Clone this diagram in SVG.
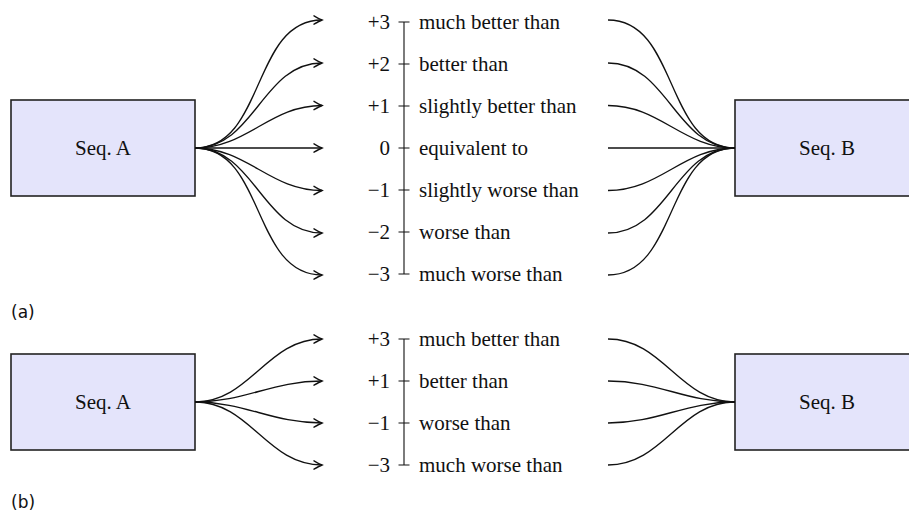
<svg xmlns="http://www.w3.org/2000/svg" width="909" height="512" viewBox="0 0 909 512">
<style>
.box{fill:#e4e4fb;stroke:#222;stroke-width:1.6}
.t{font-family:"Liberation Serif","Times New Roman",serif;font-size:21px;fill:#111}
.n{font-family:"Liberation Serif","Times New Roman",serif;font-size:21px;fill:#111;text-anchor:end}
.c{font-family:"Liberation Serif","Times New Roman",serif;font-size:21px;fill:#111;text-anchor:middle}
.cap{font-family:"DejaVu Sans","Liberation Sans",sans-serif;font-size:17px;fill:#111}
.l{fill:none;stroke:#111;stroke-width:1.3}
.a{fill:none;stroke:#111;stroke-width:1.3;marker-end:url(#tip)}
.s{fill:none;stroke:#111;stroke-width:1.1}
</style>
<defs>
<marker id="tip" markerUnits="userSpaceOnUse" viewBox="-10 -6 12 12" refX="0" refY="0" markerWidth="12" markerHeight="12" orient="auto" overflow="visible">
<path d="M -8,-4.2 Q -2.5,-1 0,0 Q -2.5,1 -8,4.2" fill="none" stroke="#111" stroke-width="1.4" stroke-linecap="round"/>
</marker>
</defs>

<g id="nodeA-a"><rect class="box" x="11" y="100" width="184" height="96"/><text class="c" x="103" y="155">Seq. A</text></g>
<g id="nodeB-a"><rect class="box" x="735" y="100" width="184" height="96"/><text class="c" x="827" y="155">Seq. B</text></g>
<g id="nodeA-b"><rect class="box" x="11" y="354" width="184" height="96"/><text class="c" x="103" y="409">Seq. A</text></g>
<g id="nodeB-b"><rect class="box" x="735" y="354" width="184" height="96"/><text class="c" x="827" y="409">Seq. B</text></g>

<g id="connectors">
<path class="a" d="M195,148 C265.5,148 251.5,20 322,20"/>
<path class="a" d="M195,148 C254.8,148 262.2,63 322,63"/>
<path class="a" d="M195,148 C247.4,148 269.6,105.5 322,105.5"/>
<path class="a" d="M195,148 L322,148"/>
<path class="a" d="M195,148 C247.4,148 269.6,190.5 322,190.5"/>
<path class="a" d="M195,148 C254.8,148 262.2,233 322,233"/>
<path class="a" d="M195,148 C265.3,148 251.7,275 322,275"/>

<path class="l" d="M608,20 C678.5,20 664.5,148 735,148"/>
<path class="l" d="M608,63 C667.8,63 675.2,148 735,148"/>
<path class="l" d="M608,105.5 C660.4,105.5 682.6,148 735,148"/>
<path class="l" d="M608,148 L735,148"/>
<path class="l" d="M608,190.5 C660.4,190.5 682.6,148 735,148"/>
<path class="l" d="M608,233 C667.8,233 675.2,148 735,148"/>
<path class="l" d="M608,275 C678.3,275 664.7,148 735,148"/>

<path class="a" d="M195,402 C250.5,402 266.5,339 322,339"/>
<path class="a" d="M195,402 C245.4,402 271.6,381 322,381"/>
<path class="a" d="M195,402 C245.4,402 271.6,423 322,423"/>
<path class="a" d="M195,402 C250.5,402 266.5,465 322,465"/>

<path class="l" d="M608,339 C663.5,339 679.5,402 735,402"/>
<path class="l" d="M608,381 C658.4,381 684.6,402 735,402"/>
<path class="l" d="M608,423 C658.4,423 684.6,402 735,402"/>
<path class="l" d="M608,465 C663.5,465 679.5,402 735,402"/>
</g>

<g id="scale-a">
<path class="s" d="M404,22 V274 M398.5,22 H409.5 M398.5,64 H409.5 M398.5,106 H409.5 M398.5,148 H409.5 M398.5,190 H409.5 M398.5,232 H409.5 M398.5,274 H409.5"/>
<text class="n" x="390" y="29">+3</text>
<text class="n" x="390" y="71">+2</text>
<text class="n" x="390" y="113">+1</text>
<text class="n" x="390" y="155">0</text>
<text class="n" x="390" y="197">−1</text>
<text class="n" x="390" y="239">−2</text>
<text class="n" x="390" y="281">−3</text>
<text class="t" x="419" y="29">much better than</text>
<text class="t" x="419" y="71">better than</text>
<text class="t" x="419" y="113">slightly better than</text>
<text class="t" x="419" y="155">equivalent to</text>
<text class="t" x="419" y="197">slightly worse than</text>
<text class="t" x="419" y="239">worse than</text>
<text class="t" x="419" y="281">much worse than</text>
</g>

<g id="scale-b">
<path class="s" d="M404,339 V465 M398.5,339 H409.5 M398.5,381 H409.5 M398.5,423 H409.5 M398.5,465 H409.5"/>
<text class="n" x="390" y="346">+3</text>
<text class="n" x="390" y="388">+1</text>
<text class="n" x="390" y="430">−1</text>
<text class="n" x="390" y="472">−3</text>
<text class="t" x="419" y="346">much better than</text>
<text class="t" x="419" y="388">better than</text>
<text class="t" x="419" y="430">worse than</text>
<text class="t" x="419" y="472">much worse than</text>
</g>

<text class="cap" x="11" y="318">(a)</text>
<text class="cap" x="11" y="508">(b)</text>
</svg>
